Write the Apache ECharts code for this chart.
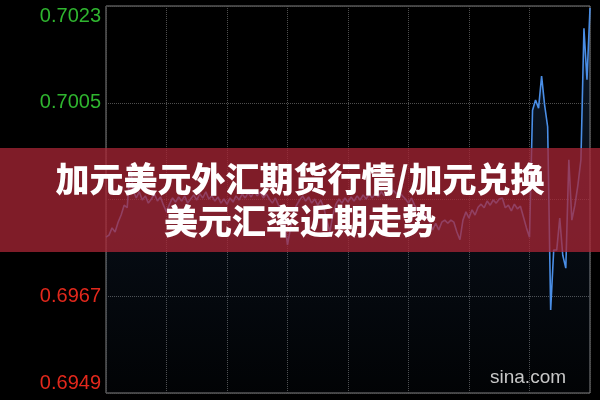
<!DOCTYPE html>
<html>
<head>
<meta charset="utf-8">
<script src="https://cdn.jsdelivr.net/npm/echarts@6/dist/echarts.min.js"></script>
<style>html,body{margin:0;padding:0;background:#000;}#c{width:600px;height:400px;}</style>
</head>
<body>
<div id="c"></div>
<script>
// Rate values (CAD/USD)
const rateValues = [
0.69787,0.69791,0.69805,0.69797,0.69816,0.6983,0.69849,0.69844,0.69927,0.69878,
0.69863,0.69875,0.69859,0.69867,0.69853,0.69861,0.69871,0.69857,0.69865,0.69849,
0.69836,0.69851,0.69863,0.69855,0.69865,0.69857,0.69867,0.69853,0.69861,0.69869,
0.69859,0.69871,0.69863,0.69875,0.69861,0.69867,0.69857,0.69865,0.69853,0.69861,
0.69851,0.69863,0.69855,0.69867,0.69859,0.69871,0.69863,0.69873,0.69865,0.69876,
0.69867,0.69875,0.69863,0.69871,0.69861,0.69853,0.69863,0.69849,0.6984,0.6982,
0.69772,0.69805,0.69836,0.69849,0.69859,0.69867,0.69857,0.69865,0.69853,0.69861,
0.69849,0.69859,0.69844,0.6982,0.69797,0.6983,0.69851,0.69861,0.69853,0.69863,
0.69855,0.69865,0.69857,0.69867,0.69859,0.69869,0.69861,0.69871,0.69863,0.69873,
0.69865,0.69875,0.69867,0.69876,0.69869,0.69878,0.69871,0.69875,0.69867,0.69861,
0.69853,0.69863,0.69849,0.6984,0.69845,0.69836,0.69826,0.69816,0.69801,0.69814,
0.69801,0.69816,0.6982,0.69814,0.6982,0.69816,0.69797,0.69782,0.6982,0.69836,
0.69824,0.6984,0.6983,0.69845,0.69851,0.69844,0.69857,0.69849,0.69859,0.69853,
0.69861,0.69863,0.69844,0.69849,0.69838,0.69851,0.69842,0.69847,0.69826,0.69805,
0.69787,0.70033,0.70053,0.70037,0.70099,0.70043,0.70001,0.69646,0.69762,0.69762,
0.69824,0.69752,0.69727,0.69937,0.6982,0.69849,0.69888,0.69937,0.70192,0.70092,
0.70231
];
const categories = rateValues.map((_, i) => String(i));
const yMin = 0.69485;
const yMax = 0.70235;
const yStep = 0.001875;
const yTickLabels = ['0.6949', '0.6967', '', '0.7005', '0.7023'];
const yLabelColors = ['#e2281c', '#e2281c', '#cccccc', '#2fb52f', '#2fb52f'];
const titleLines = ['加元美元外汇期货行情/加元兑换', '美元汇率近期走势'];
const watermark = 'sina.com';

const chart = echarts.init(document.getElementById('c'), null, {renderer: 'canvas'});
chart.setOption({
  backgroundColor: '#000',
  animation: false,
  grid: {left: 106, right: 10, top: 6, bottom: 7, show: true, borderColor: '#808080', borderWidth: 1, backgroundColor: 'transparent'},
  xAxis: {
    type: 'category', data: categories, boundaryGap: false,
    axisLine: {show: false}, axisTick: {show: false}, axisLabel: {show: false},
    splitLine: {show: true, interval: (i) => i % 20 === 0, lineStyle: {color: '#4e4e4e', type: [1, 1], width: 1}}
  },
  yAxis: {
    type: 'value', min: yMin, max: yMax, interval: yStep,
    axisLine: {show: false}, axisTick: {show: false},
    splitLine: {show: true, lineStyle: {color: '#4e4e4e', type: [1, 1], width: 1}},
    axisLabel: {
      margin: 5,
      fontFamily: 'Liberation Sans, Arial, sans-serif', fontSize: 20,
      verticalAlignMinLabel: 'bottom', verticalAlignMaxLabel: 'top',
      formatter: (v) => { const k = Math.round((v - yMin) / yStep); return yTickLabels[k] || ''; },
      color: (v) => { const k = Math.round((v - yMin) / yStep); return yLabelColors[k]; }
    }
  },
  series: [{
    type: 'line', data: rateValues, symbol: 'none', smooth: false,
    lineStyle: {color: '#4a8ee6', width: 1.6},
    areaStyle: {color: new echarts.graphic.LinearGradient(0, 0, 0, 1, [
      {offset: 0, color: 'rgba(74,142,230,0.25)'},
      {offset: 1, color: 'rgba(74,142,230,0.03)'}
    ])},
    z: 2
  }],
  graphic: [
    {type: 'rect', left: 0, top: 148, z: 100, shape: {width: 600, height: 104}, style: {fill: 'rgba(170,38,53,0.75)'}},
    {type: 'text', x: 300, y: 200, z: 101, style: {
      text: titleLines.join('\n'), fill: '#ffffff', align: 'center', verticalAlign: 'middle',
      font: '900 34px "Noto Sans CJK SC", sans-serif', lineHeight: 42
    }},
    {type: 'text', left: 490, top: 368, z: 101, style: {
      text: watermark, fill: '#c8c8c8', font: '19px "Liberation Sans", Arial, sans-serif'
    }}
  ]
});
</script>
</body>
</html>
